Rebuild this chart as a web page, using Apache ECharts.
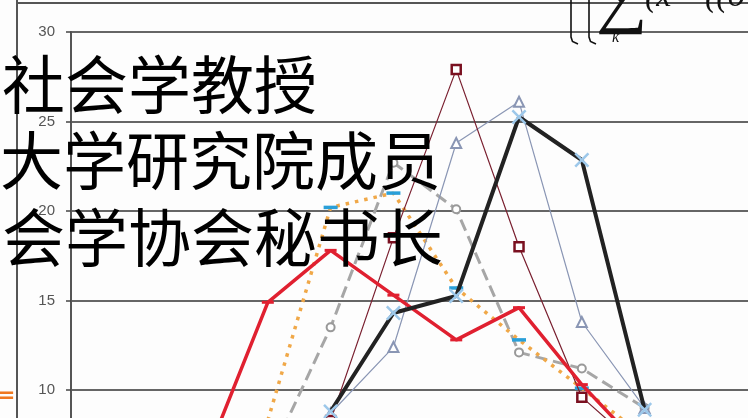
<!DOCTYPE html>
<html><head><meta charset="utf-8">
<script src="https://cdn.jsdelivr.net/npm/echarts@6/dist/echarts.min.js"></script>
<style>html,body{margin:0;padding:0;background:#fff}#c{width:748px;height:418px}</style>
</head><body><div id="c"></div>
<script>
// category index positions (0..7)
const categories = [0, 1, 2, 3, 4, 5, 6, 7];
const yTickValues = [0, 5, 10, 15, 20, 25, 30];
const redSeries    = [6.1, 14.9, 17.8, 15.3, 12.8, 14.6, 10.3, 6.6];
const orangeSeries = [null, 8.3, 20.2, 21.0, 15.7, 12.8, 10.1, 7.4];
const graySeries   = [null, 6.0, 13.5, 22.7, 20.1, 12.1, 11.2, 9.0];
const darkRedSeries= [null, 3.0, 8.3, 18.5, 27.9, 18.0, 9.6, 6.5];
const blueSeries   = [null, null, 8.7, 12.4, 23.8, 26.1, 13.8, 9.0];
const blackSeries  = [null, null, 8.8, 14.3, 15.25, 25.25, 22.85, 8.9];
const overlayLines = ['社会学教授', '大学研究院成员', '会学协会秘书长'];

const pairs = arr => categories.map((c, i) => [c, arr[i]]);
const X = 'path://M0,1.2L1.2,0L5,3.8L8.8,0L10,1.2L6.2,5L10,8.8L8.8,10L5,6.2L1.2,10L0,8.8L3.8,5Z';

const chart = echarts.init(document.getElementById('c'), null, {renderer: 'canvas'});
const option = {
  animation: false,
  backgroundColor: '#fdfdfd',
  grid: {left: 71, width: 677, top: 32, height: 537, containLabel: false, outerBoundsMode: 'none'},
  xAxis: {type: 'value', min: -2.134, max: 8.646, show: false},
  yAxis: {
    type: 'value', min: yTickValues[0], max: yTickValues[yTickValues.length - 1], interval: 5,
    axisLine: {show: true, onZero: false, lineStyle: {color: '#555', width: 2}},
    axisTick: {show: true, length: 5, lineStyle: {color: '#444', width: 1.5}},
    axisLabel: {color: '#555', fontSize: 15, fontFamily: 'Liberation Sans, Arial', margin: 16},
    splitLine: {lineStyle: {color: '#333', width: 1.5}}
  },
  series: [
    {type: 'line', data: pairs(graySeries), lineStyle: {color: '#a6a6a6', width: 3, type: [12, 6]},
     symbol: 'emptyCircle', symbolSize: 8, itemStyle: {color: '#999', borderWidth: 1.5}, z: 2},
    {type: 'line', data: pairs(orangeSeries), lineStyle: {color: '#f0a848', width: 3.5, type: [3.5, 6]},
     symbol: 'rect', symbolSize: [14, 3.5], itemStyle: {color: '#2a9fd8'}, z: 3},
    {type: 'line', data: pairs(blueSeries), lineStyle: {color: '#8a96b4', width: 1.2},
     symbol: 'emptyTriangle', symbolSize: 10, itemStyle: {color: '#8a96b4', borderWidth: 1.3}, z: 4},
    {type: 'line', data: pairs(darkRedSeries), lineStyle: {color: '#7a2030', width: 1.2},
     symbol: 'rect', symbolSize: 9, itemStyle: {color: '#fff', borderColor: '#7a1020', borderWidth: 2.5}, z: 5},
    {type: 'line', data: pairs(redSeries), lineStyle: {color: '#e02030', width: 3.5},
     symbol: 'rect', symbolSize: [12, 3], itemStyle: {color: '#e02030'}, z: 6},
    {type: 'line', data: pairs(blackSeries), lineStyle: {color: '#222', width: 4},
     symbol: X, symbolSize: 15, itemStyle: {color: '#9dc8ea'}, z: 7}
  ],
  graphic: [
    {type: 'line', shape: {x1: 17, y1: 3, x2: 748, y2: 3}, style: {stroke: '#555', lineWidth: 2}, z: 50},
    {type: 'line', shape: {x1: 17, y1: 0, x2: 17, y2: 418}, style: {stroke: '#555', lineWidth: 2}, z: 50},
    {type: 'polyline', shape: {points: [[571,0],[571,37],[572.5,41.5],[578,44]]}, style: {stroke: '#111', fill: null, lineWidth: 1.6}, z: 50},
    {type: 'polyline', shape: {points: [[589,0],[589,37],[590.5,41.5],[596,44]]}, style: {stroke: '#111', fill: null, lineWidth: 1.6}, z: 50},
    {type: 'text', x: 596, y: 36, style: {text: '∑', fontSize: 72, fontFamily: 'Liberation Serif', fill: '#111', textVerticalAlign: 'bottom'}, z: 50},
    {type: 'text', x: 612, y: 38, style: {text: 'k', fontSize: 16, fontStyle: 'italic', fontFamily: 'Liberation Serif', fill: '#111', textVerticalAlign: 'middle'}, z: 50},
    {type: 'text', x: 645, y: 14, style: {text: '(x', fontSize: 34, fontStyle: 'italic', fontFamily: 'Liberation Serif', fill: '#111', textVerticalAlign: 'bottom'}, z: 50},
    {type: 'text', x: 705, y: 14, style: {text: '((o', fontSize: 34, fontStyle: 'italic', fontFamily: 'Liberation Serif', fill: '#111', textVerticalAlign: 'bottom'}, z: 50},
    {type: 'text', x: -3, y: 396, style: {text: '=', fontSize: 22, fontWeight: 'bold', fontFamily: 'DejaVu Sans', fill: '#f07820', textVerticalAlign: 'middle'}, z: 50},
    {type: 'text', x: 2, y: 84, style: {text: overlayLines[0], fontSize: 63, fontFamily: 'Noto Sans CJK SC', fill: '#000', textVerticalAlign: 'middle'}, z: 100},
    {type: 'text', x: 0, y: 160, style: {text: overlayLines[1], fontSize: 63, fontFamily: 'Noto Sans CJK SC', fill: '#000', textVerticalAlign: 'middle'}, z: 100},
    {type: 'text', x: 2, y: 237, style: {text: overlayLines[2], fontSize: 63, fontFamily: 'Noto Sans CJK SC', fill: '#000', textVerticalAlign: 'middle'}, z: 100}
  ]
};
chart.setOption(option);
</script></body></html>
